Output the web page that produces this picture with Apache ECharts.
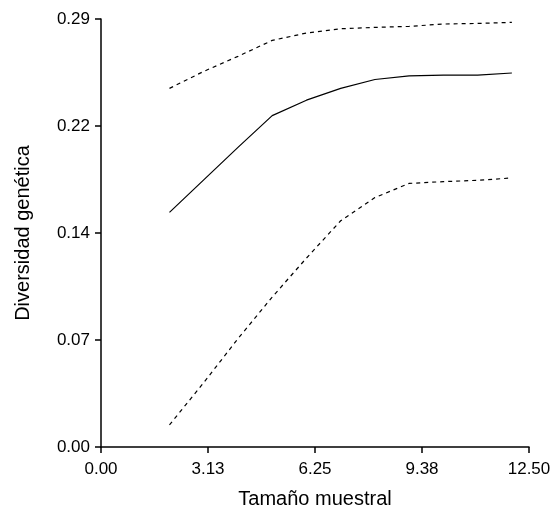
<!DOCTYPE html>
<html style="height: 100%">
<head>
<meta charset="utf-8">
<script src="https://cdn.jsdelivr.net/npm/echarts@6/dist/echarts.min.js"></script>
</head>
<body style="height: 100%; margin: 0; background: #fff">
<div id="container" style="width: 551px; height: 508px"></div>
<script type="text/javascript">
// sample sizes and diversity estimates
var sizes = [2, 3, 4, 5, 6, 7, 8, 9, 10, 11, 12];
var mean  = [0.159, 0.181, 0.203, 0.2245, 0.235, 0.243, 0.249, 0.2514, 0.252, 0.252, 0.2534];
var upper = [0.243, 0.2545, 0.2647, 0.2755, 0.2805, 0.2834, 0.2843, 0.285, 0.2866, 0.287, 0.2877];
var lower = [0.015, 0.0436, 0.0734, 0.1016, 0.128, 0.1533, 0.169, 0.1786, 0.1798, 0.1807, 0.1823];

var xTicks = ['0.00', '3.13', '6.25', '9.38', '12.50'];
var yTicks = ['0.00', '0.07', '0.14', '0.22', '0.29'];

function pairs(ys) {
    return sizes.map(function (x, i) { return [x, ys[i]]; });
}

var font = 'Liberation Sans, Arial, sans-serif';
var myChart = echarts.init(document.getElementById('container'));

var option = {
    backgroundColor: '#fff',
    animation: false,
    grid: { left: 101, right: 22, top: 19, bottom: 61, containLabel: false, outerBoundsMode: 'none' },
    xAxis: {
        type: 'value',
        min: 0, max: 12.5, interval: 3.125,
        name: 'Tamaño muestral',
        nameLocation: 'middle',
        nameGap: 42,
        nameTextStyle: { color: '#000', fontSize: 20, fontFamily: font },
        axisLine: { onZero: false, lineStyle: { color: '#000', width: 1.5 } },
        axisTick: { length: 6, lineStyle: { color: '#000', width: 1.5 } },
        axisLabel: {
            color: '#000', fontSize: 17, fontFamily: font, margin: 14,
            formatter: function (v, i) { return xTicks[i]; }
        },
        splitLine: { show: false }
    },
    yAxis: {
        type: 'value',
        min: 0, max: 0.29, interval: 0.0725,
        name: 'Diversidad genética',
        nameLocation: 'middle',
        nameGap: 68,
        nameTextStyle: { color: '#000', fontSize: 20, fontFamily: font },
        axisLine: { show: true, lineStyle: { color: '#000', width: 1.5 } },
        axisTick: { show: true, length: 6, lineStyle: { color: '#000', width: 1.5 } },
        axisLabel: {
            color: '#000', fontSize: 17, fontFamily: font, margin: 11,
            formatter: function (v, i) { return yTicks[i]; }
        },
        splitLine: { show: false }
    },
    series: [
        {
            type: 'line', data: pairs(upper), symbol: 'none',
            lineStyle: { color: '#000', width: 1.2, type: [4, 4] }
        },
        {
            type: 'line', data: pairs(mean), symbol: 'none',
            lineStyle: { color: '#000', width: 1.2 }
        },
        {
            type: 'line', data: pairs(lower), symbol: 'none',
            lineStyle: { color: '#000', width: 1.2, type: [4, 4] }
        }
    ]
};
myChart.setOption(option);
</script>
</body>
</html>
